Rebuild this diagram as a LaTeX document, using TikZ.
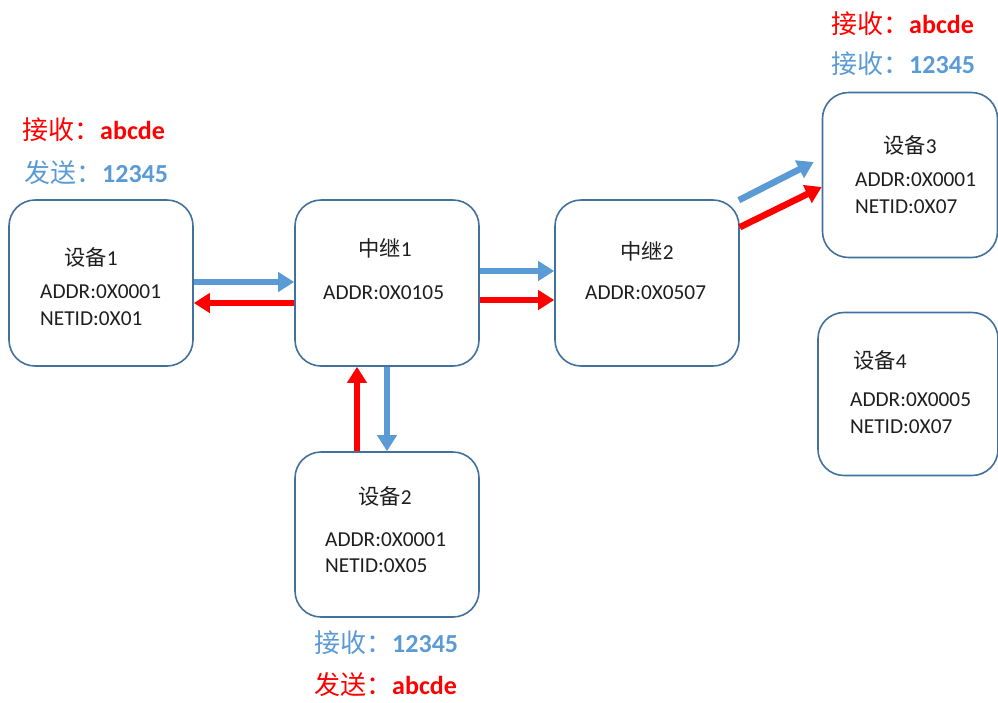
\documentclass[tikz,border=0pt]{standalone}
\usepackage{fontspec}
\setmainfont{Carlito}
\newfontfamily\cjk{Noto Sans CJK SC}
\usetikzlibrary{arrows.meta,calc}
\definecolor{boxblue}{HTML}{41719C}
\definecolor{ablue}{HTML}{5B9BD5}
\definecolor{ared}{HTML}{FF0000}
\definecolor{txtc}{HTML}{1E1E1E}
\newcommand{\zh}[1]{{\cjk\mdseries #1}}
\begin{document}
\begin{tikzpicture}[x=1pt,y=-1pt,
  box/.style={draw=boxblue, line width=1.6pt, rounded corners=26pt, inner sep=0pt},
  txt/.style={font=\fontsize{21.3}{25}\selectfont, text=txtc, inner sep=0pt},
  txtw/.style={txt, anchor=west},
  lbl/.style={font=\fontsize{26}{30}\selectfont\bfseries, inner sep=0pt, anchor=west},
  arr/.style={line width=6.5pt, -{Triangle[width=19pt,length=16pt]}}]
\useasboundingbox (0,0) rectangle (998,702);
% boxes
\node[box, minimum width=184, minimum height=166] (d1) at (101,283) {};
\node[box, minimum width=184, minimum height=166] (r1) at (387,283) {};
\node[box, minimum width=184, minimum height=166] (r2) at (647,283) {};
\node[box, minimum width=175, minimum height=165] (d3) at (910,175) {};
\node[box, minimum width=180, minimum height=163] (d4) at (908,394) {};
\node[box, minimum width=184, minimum height=165] (d2) at (387,534.5) {};
% box texts
\node[txt] (t1) at (91,257) {\zh{设备}1};
\node[txtw] (a1) at (40,292) {ADDR:0X0001};
\node[txtw] (n1) at (40,319) {NETID:0X01};
\node[txt] (t2) at (385,248) {\zh{中继}1};
\node[txtw] (a2) at (323,293) {ADDR:0X0105};
\node[txt] (t3) at (647,251) {\zh{中继}2};
\node[txtw] (a3) at (585,293) {ADDR:0X0507};
\node[txt] (t4) at (910,145) {\zh{设备}3};
\node[txtw] (a4) at (855,180) {ADDR:0X0001};
\node[txtw] (n4) at (855,207) {NETID:0X07};
\node[txt] (t5) at (880,360) {\zh{设备}4};
\node[txtw] (a5) at (850,400) {ADDR:0X0005};
\node[txtw] (n5) at (850,427) {NETID:0X07};
\node[txt] (t6) at (385,496) {\zh{设备}2};
\node[txtw] (a6) at (325,540) {ADDR:0X0001};
\node[txtw] (n6) at (325,566) {NETID:0X05};
% outer labels
\node[lbl, text=ared] (l1) at (22,130) {\zh{接收：}abcde};
\node[lbl, text=ablue] (l2) at (24,173) {\zh{发送：}12345};
\node[lbl, text=ared] (l3) at (831,24) {\zh{接收：}abcde};
\node[lbl, text=ablue] (l4) at (831,64) {\zh{接收：}12345};
\node[lbl, text=ablue] (l5) at (314,643) {\zh{接收：}12345};
\node[lbl, text=ared] (l6) at (314,685) {\zh{发送：}abcde};
% arrows
\draw[arr, ablue] ([yshift=1pt]d1.east) -- ([yshift=1pt]r1.west);
\draw[arr, ared] ([yshift=-20pt]r1.west) -- ([yshift=-20pt]d1.east);
\draw[arr, ablue] ([yshift=12pt]r1.east) -- ([yshift=12pt]r2.west);
\draw[arr, ared] ([yshift=-17pt]r1.east) -- ([yshift=-17pt]r2.west);
\draw[arr, ared] ([xshift=-30pt]d2.north) -- ([xshift=-30pt]r1.south);
\draw[arr, ablue] (r1.south) -- (d2.north);
\draw[arr, ablue] ([shift={(-1pt,-1pt)}]r2.north east) -- ([shift={(-8pt,13pt)}]d3.west);
\draw[arr, ared] ([yshift=-28pt]r2.north east) -- ([yshift=-12pt]d3.west);
\end{tikzpicture}
\end{document}
